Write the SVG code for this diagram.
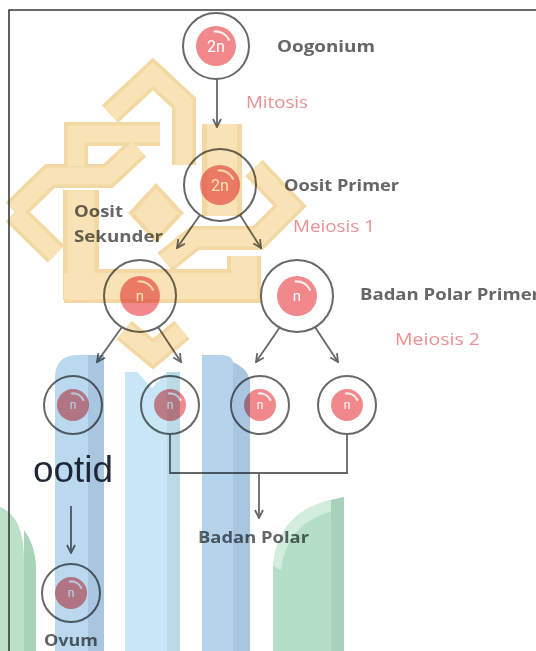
<svg xmlns="http://www.w3.org/2000/svg" width="536" height="651" viewBox="0 0 536 651">
  <style>
    .ring { fill: none; stroke: #686868; stroke-width: 2; }
    .disc { fill: #f1898c; }
    .shine { fill: none; stroke: #ffffff; stroke-width: 2.2; stroke-linecap: round; opacity: 0.85; }
    .ploidy { fill: #ffffff; font-family: Roboto, "Liberation Sans", sans-serif; text-anchor: middle; }
    .label { fill: #666666; font-family: "Open Sans", "Liberation Sans", sans-serif; font-weight: 700; font-size: 16px; }
    .stage { fill: #eb9092; font-family: "Open Sans", "Liberation Sans", sans-serif; font-weight: 500; font-size: 17px; }
    .link { fill: none; stroke: #676767; stroke-width: 1.8; }
    .overlay { mix-blend-mode: multiply; }
    .band { fill: none; stroke: #f3d8a3; stroke-linejoin: miter; stroke-linecap: butt; }
    .face { fill: none; stroke: #f9e3b6; stroke-linejoin: miter; stroke-linecap: butt; }
  </style>
  <defs>
    <marker id="arr" viewBox="0 0 10 10" refX="9" refY="5" markerWidth="10" markerHeight="10" markerUnits="userSpaceOnUse" orient="auto">
      <path d="M1,1 L9,5 L1,9" fill="none" stroke="#676767" stroke-width="1.8"/>
    </marker>
    <path id="shine20" d="M-1.5,-14.5 A14.5,14.5 0 0 1 13,-6.2"/>
    <path id="shine16" d="M-1.2,-11.5 A11.5,11.5 0 0 1 10.4,-5"/>
  </defs>

  <rect width="536" height="651" fill="#ffffff"/>

  <!-- connectors -->
  <g id="connectors">
    <line class="link" x1="217" y1="79" x2="217" y2="127" marker-end="url(#arr)"/>
    <line class="link" x1="200" y1="215" x2="177" y2="248" marker-end="url(#arr)"/>
    <line class="link" x1="240" y1="215" x2="261" y2="248" marker-end="url(#arr)"/>
    <line class="link" x1="122" y1="327" x2="97" y2="362" marker-end="url(#arr)"/>
    <line class="link" x1="158" y1="327" x2="181" y2="362" marker-end="url(#arr)"/>
    <line class="link" x1="280" y1="327" x2="256" y2="362" marker-end="url(#arr)"/>
    <line class="link" x1="315" y1="327" x2="338" y2="362" marker-end="url(#arr)"/>
    <polyline class="link" points="170,434 170,473 347,473 347,434"/>
    <line class="link" x1="259" y1="473" x2="259" y2="518" marker-end="url(#arr)"/>
    <line class="link" x1="71" y1="506" x2="71" y2="553" marker-end="url(#arr)"/>
  </g>

  <!-- cells -->
  <g id="oogonium" transform="translate(216,46)">
    <circle class="ring" r="33"/>
    <circle class="disc" r="20"/>
    <use href="#shine20" class="shine"/>
    <text class="ploidy" y="6" font-size="16">2n</text>
  </g>
  <g id="oosit-primer" transform="translate(220,185)">
    <circle class="ring" r="36"/>
    <circle class="disc" r="20"/>
    <use href="#shine20" class="shine"/>
    <text class="ploidy" y="6" font-size="16">2n</text>
  </g>
  <g id="oosit-sekunder" transform="translate(140,296)">
    <circle class="ring" r="36"/>
    <circle class="disc" r="20"/>
    <use href="#shine20" class="shine"/>
    <text class="ploidy" y="5" font-size="15">n</text>
  </g>
  <g id="badan-polar-primer" transform="translate(297,296)">
    <circle class="ring" r="36"/>
    <circle class="disc" r="20"/>
    <use href="#shine20" class="shine"/>
    <text class="ploidy" y="5" font-size="15">n</text>
  </g>
  <g id="ootid-1" transform="translate(73,405)">
    <circle class="ring" r="29"/>
    <circle class="disc" r="16"/>
    <use href="#shine16" class="shine"/>
    <text class="ploidy" y="4" font-size="12">n</text>
  </g>
  <g id="ootid-2" transform="translate(170,405)">
    <circle class="ring" r="29"/>
    <circle class="disc" r="16"/>
    <use href="#shine16" class="shine"/>
    <text class="ploidy" y="4" font-size="12">n</text>
  </g>
  <g id="polar-1" transform="translate(260,405)">
    <circle class="ring" r="29"/>
    <circle class="disc" r="16"/>
    <use href="#shine16" class="shine"/>
    <text class="ploidy" y="4" font-size="12">n</text>
  </g>
  <g id="polar-2" transform="translate(347,405)">
    <circle class="ring" r="29"/>
    <circle class="disc" r="16"/>
    <use href="#shine16" class="shine"/>
    <text class="ploidy" y="4" font-size="12">n</text>
  </g>
  <g id="ovum" transform="translate(71,593)">
    <circle class="ring" r="29"/>
    <circle class="disc" r="16"/>
    <use href="#shine16" class="shine"/>
    <text class="ploidy" y="4" font-size="12">n</text>
  </g>

  <!-- labels -->
  <g id="labels">
    <text class="label" x="277" y="52" textLength="98" lengthAdjust="spacingAndGlyphs">Oogonium</text>
    <text class="stage" x="246" y="108" textLength="62" lengthAdjust="spacingAndGlyphs">Mitosis</text>
    <text class="label" x="284" y="191" textLength="115" lengthAdjust="spacingAndGlyphs">Oosit Primer</text>
    <text class="stage" x="293" y="232" textLength="82" lengthAdjust="spacingAndGlyphs">Meiosis 1</text>
    <text class="label" x="74" y="217" textLength="49" lengthAdjust="spacingAndGlyphs">Oosit</text>
    <text class="label" x="74" y="242" textLength="89" lengthAdjust="spacingAndGlyphs">Sekunder</text>
    <text class="label" x="360" y="300" textLength="180" lengthAdjust="spacingAndGlyphs">Badan Polar Primer</text>
    <text class="stage" x="395" y="345" textLength="85" lengthAdjust="spacingAndGlyphs">Meiosis 2</text>
    <text class="label" x="198" y="543" textLength="111" lengthAdjust="spacingAndGlyphs">Badan Polar</text>
    <text class="label" x="44" y="646" textLength="54" lengthAdjust="spacingAndGlyphs">Ovum</text>
  </g>

  <!-- gold knot emblem -->
  <g id="emblem" class="overlay">
    <g class="band">
      <path d="M110,114 L153,74 L184,103 L184,165" style="stroke-width:24"/>
      <path d="M222,124 L222,216" style="stroke-width:40"/>
      <path d="M165,262 L195,238 L258,238 L290,206 L254,168" style="stroke-width:24"/>
      <path d="M76,166 L76,134 L160,134" style="stroke-width:24"/>
      <path d="M14,211 L50,176 L108,176 L138,148" style="stroke-width:24"/>
      <path d="M14,213 L56,254" style="stroke-width:24"/>
      <path d="M81,190 L81,300" style="stroke-width:36"/>
      <path d="M64,286 L244,286 L244,256" style="stroke-width:34"/>
      <path d="M124,330 L153,354 L182,330" style="stroke-width:24"/>
    </g>
    <polygon points="156,183 184,213 156,243 128,213" fill="#f3d8a3"/>
    <polygon points="156,189 178,213 156,237 134,213" fill="#f9e3b6"/>
    <g class="face">
      <path d="M110,114 L153,74 L184,103 L184,165" style="stroke-width:17"/>
      <path d="M222,124 L222,216" style="stroke-width:30"/>
      <path d="M165,262 L195,238 L258,238 L290,206 L254,168" style="stroke-width:17"/>
      <path d="M76,166 L76,134 L160,134" style="stroke-width:17"/>
      <path d="M14,211 L50,176 L108,176 L138,148" style="stroke-width:17"/>
      <path d="M14,213 L56,254" style="stroke-width:17"/>
      <path d="M81,190 L81,300" style="stroke-width:27"/>
      <path d="M64,286 L244,286 L244,256" style="stroke-width:26"/>
      <path d="M124,330 L153,354 L182,330" style="stroke-width:17"/>
    </g>
  </g>

  <!-- blue columns -->
  <g id="columns" class="overlay">
    <path d="M55,651 L55,376 Q56,356 76,355 L88,355 L88,651 Z" fill="#bad8ee"/>
    <path d="M88,355 L104,355 L104,651 L88,651 Z" fill="#a9c6e0"/>
    <path d="M125,651 L125,372 L137,372 L152,388 L167,372 L167,651 Z" fill="#c7e7f6"/>
    <path d="M167,372 L180,372 L180,651 L167,651 Z" fill="#bbdae8"/>
    <path d="M202,651 L202,355 L222,355 Q233,356 233,362 L233,651 Z" fill="#b5d4eb"/>
    <path d="M233,362 Q247,368 250,380 L250,651 L233,651 Z" fill="#a8c6df"/>
  </g>

  <!-- green arches -->
  <g id="arches" class="overlay">
    <path d="M0,507 Q24,516 24,560 L24,651 L0,651 Z" fill="#bbe1c9"/>
    <path d="M24,530 Q35,545 36,565 L36,651 L24,651 Z" fill="#aad4ba"/>
    <path d="M273,651 L273,566 Q278,512 331,500 L331,651 Z" fill="#b4dfc6"/>
    <path d="M273,566 Q278,512 331,500 L344,497 L336,510 Q286,522 281,570 Z" fill="#d2ecde"/>
    <path d="M331,500 L344,497 L344,651 L331,651 Z" fill="#a9d1b9"/>
  </g>

  <text x="33" y="482" font-family="'Liberation Sans', Arial, sans-serif" font-size="36" fill="#1e2735" textLength="80" lengthAdjust="spacingAndGlyphs">ootid</text>

  <!-- frame -->
  <path d="M9,651 L9,10 L536,10" fill="none" stroke="#3a3a3a" stroke-width="1.6"/>
</svg>
